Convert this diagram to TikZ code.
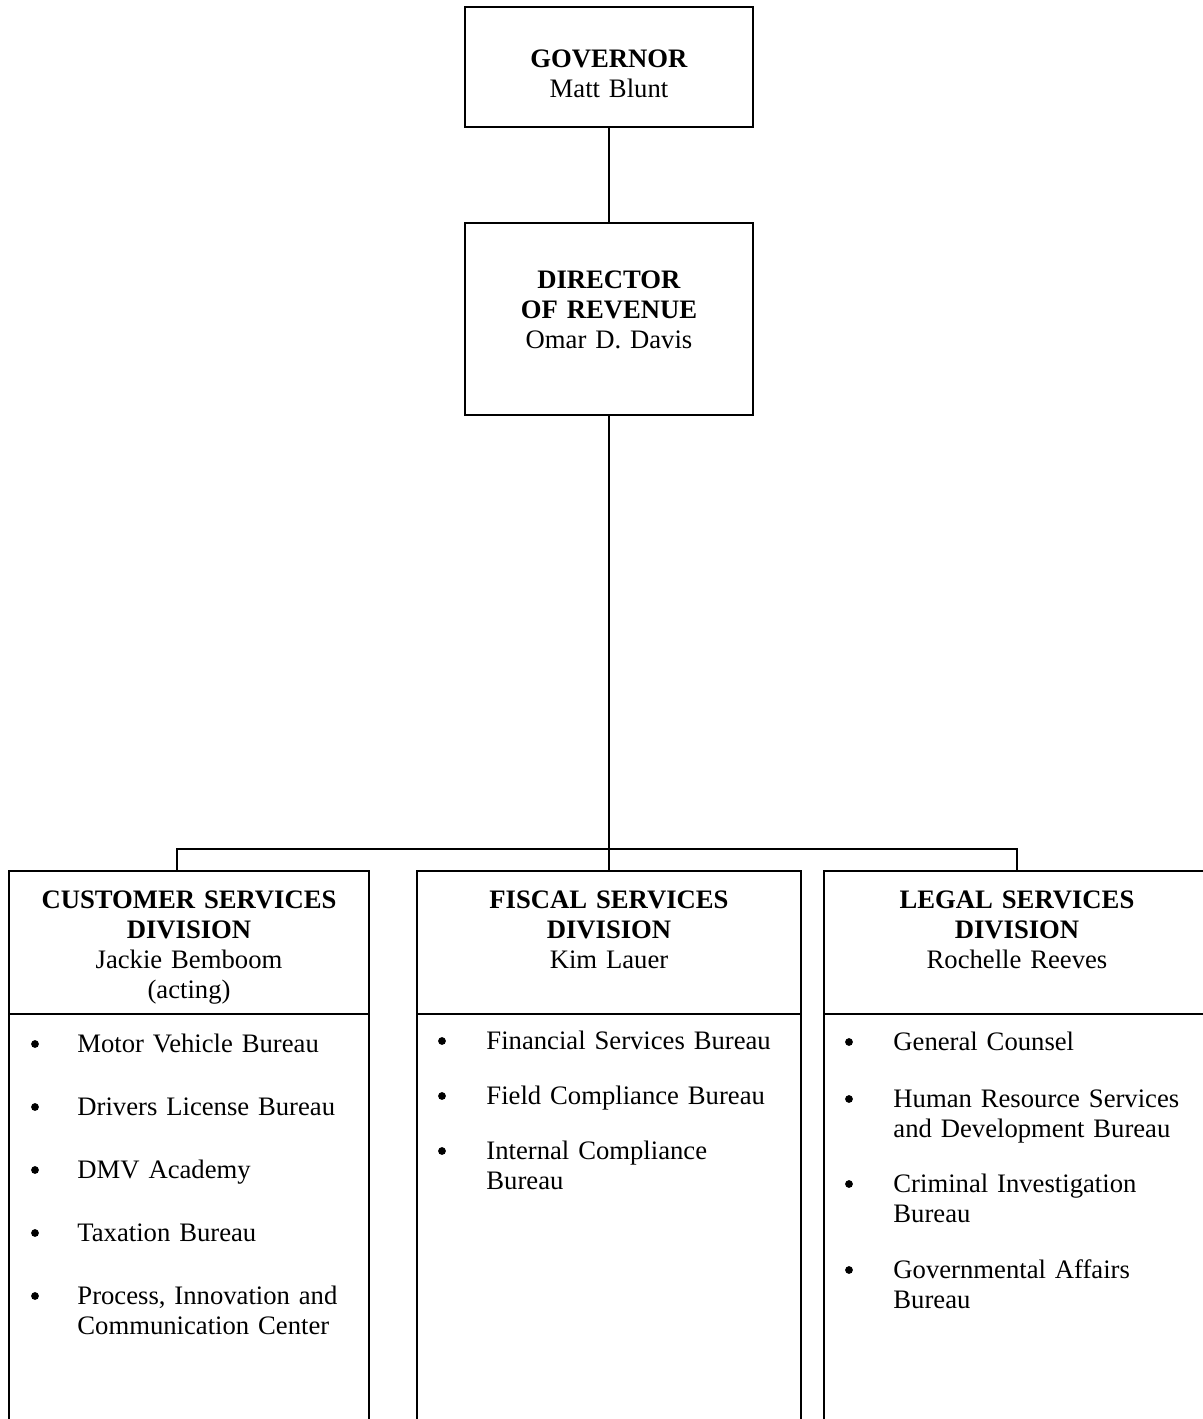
\documentclass[tikz,border=0pt]{standalone}
\usepackage{fontspec}
\setmainfont{Liberation Serif}
\usetikzlibrary{calc}
\tikzset{
	box/.style={draw, line width=0.9pt, inner sep=0pt, outer sep=0pt},
	wire/.style={line width=0.9pt},
	headtext/.style={anchor=base, align=center, text width=160pt, inner sep=0pt, font=\fontsize{12}{13.5}\selectfont},
	itemtext/.style={anchor=base west, align=left, text width=140pt, inner sep=0pt, font=\fontsize{12}{13.5}\selectfont},
	dot/.style={circle, fill=black, inner sep=0pt, minimum size=3.5pt}
}

\begin{document}
\begin{tikzpicture}[x=0.45pt, y=-0.45pt]
			%%%%% START %%%%%
			
			\useasboundingbox (0, 0) rectangle (1203, 1419);
			\coordinate (bottom) at (0, 1419);
			
			\node[box, minimum width=129.6pt, minimum height=54pt] (gov) at (609, 67) {};
			\node[headtext] (govtext) at (609, 67) {\textbf{GOVERNOR}\\Matt Blunt};
			
			\node[box, minimum width=129.6pt, minimum height=86.4pt] (dor) at (609, 319) {};
			\node[headtext] (dortext) at (609, 288) {\textbf{DIRECTOR}\\\textbf{OF REVENUE}\\Omar D. Davis};
			
			\draw[wire] (gov) -- (dor);
			
			\node[box, minimum width=162pt, minimum height=64.35pt] (csd) at (189, 942.5) {};
			\node[box, minimum width=172.8pt, minimum height=64.35pt] (fsd) at (609, 942.5) {};
			\node[box, minimum width=173.7pt, minimum height=64.35pt] (lsd) at (1017, 942.5) {};
			
			\node[headtext] (csdtext) at (189, 908) {\textbf{CUSTOMER SERVICES}\\\textbf{DIVISION}\\Jackie Bemboom\\(acting)};
			\node[headtext] (fsdtext) at (609, 908) {\textbf{FISCAL SERVICES}\\\textbf{DIVISION}\\Kim Lauer};
			\node[headtext] (lsdtext) at (1017, 908) {\textbf{LEGAL SERVICES}\\\textbf{DIVISION}\\Rochelle Reeves};
			
			\draw[wire] (dor) -- (fsd);
			\coordinate (csdtap) at (177, 849);
			\coordinate (lsdtap) at (1017, 849);
			\draw[wire] (csdtap |- csd.north) -- (csdtap) -- (lsdtap) -- (lsdtap |- lsd.north);
			
			\draw[wire] (csd.south west) -- (csd.south west |- bottom);
			\draw[wire] (csd.south east) -- (csd.south east |- bottom);
			\draw[wire] (fsd.south west) -- (fsd.south west |- bottom);
			\draw[wire] (fsd.south east) -- (fsd.south east |- bottom);
			\draw[wire] (lsd.south west) -- (lsd.south west |- bottom);
			\draw[wire] (lsd.south east) -- (lsd.south east |- bottom);
			
			\foreach \y/\t [count=\i] in {1052/Motor Vehicle Bureau, 1115/Drivers License Bureau, 1178/DMV Academy, 1241/Taxation Bureau, {1304/Process, Innovation and\\Communication Center}} {
				\node[dot] (csddot\i) at (35, \y-8) {};
				\node[itemtext] (csditem\i) at (77, \y) {\t};
			}
			
			\foreach \y/\t [count=\i] in {1049/Financial Services Bureau, 1104/Field Compliance Bureau, 1159/Internal Compliance\\Bureau} {
				\node[dot] (fsddot\i) at (442, \y-8) {};
				\node[itemtext] (fsditem\i) at (486, \y) {\t};
			}
			
			\foreach \y/\t [count=\i] in {1050/General Counsel, 1107/Human Resource Services\\and Development Bureau, 1192/Criminal Investigation\\Bureau, 1278/Governmental Affairs\\Bureau} {
				\node[dot] (lsddot\i) at (849, \y-8) {};
				\node[itemtext] (lsditem\i) at (893, \y) {\t};
			}
			
			%%%%% END %%%%%
		\end{tikzpicture}
\end{document}
